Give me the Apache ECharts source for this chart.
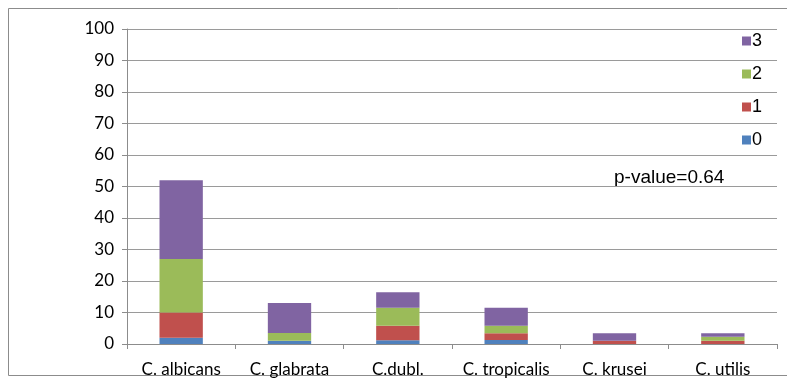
<!DOCTYPE html>
<html>
<head>
<meta charset="utf-8">
<script src="https://cdn.jsdelivr.net/npm/echarts@6/dist/echarts.min.js"></script>
<style>
  html, body { margin: 0; padding: 0; background: #fff; }
  #chart { width: 787px; height: 387px; }
</style>
</head>
<body>
<div id="chart"></div>
<script>
const categories = ['C. albicans', 'C. glabrata', 'C.dubl.', 'C. tropicalis', 'C. krusei', 'C. utilis']
const score0 = [2, 1, 1.2, 1.3, 0, 0]
const score1 = [8, 0, 4.6, 2.1, 1, 1]
const score2 = [17, 2.5, 5.7, 2.4, 0, 1.3]
const score3 = [25, 9.5, 4.9, 5.7, 2.4, 1.1]
const yTicks = [0, 10, 20, 30, 40, 50, 60, 70, 80, 90, 100]
const note = 'p-value=0.64'

const colors = { '0': '#4F81BD', '1': '#C0504D', '2': '#9BBB59', '3': '#8064A2' }
const makeSeries = (name, data) => ({
  name,
  type: 'bar',
  stack: 'total',
  barWidth: '40%',
  data,
  itemStyle: { color: colors[name] }
})

const chart = echarts.init(document.getElementById('chart'))
chart.setOption({
  animation: false,
  grid: { left: 127, right: 10, top: 29, bottom: 43 },
  graphic: [
    {
      type: 'rect',
      shape: { x: 8.5, y: 8.5, width: 900, height: 367 },
      style: { fill: 'none', stroke: '#8c8c8c', lineWidth: 1 },
      z: -1
    },
    {
      type: 'text',
      left: 614,
      top: 168,
      style: { text: note, font: '19px "Liberation Sans", Arial, sans-serif', fill: '#000' }
    }
  ],
  legend: {
    data: ['3', '2', '1', '0'],
    orient: 'vertical',
    left: 737,
    top: 27,
    itemWidth: 9,
    itemHeight: 9,
    itemGap: 15,
    icon: 'rect',
    textStyle: { fontSize: 18, fontFamily: '"Liberation Sans", Arial, sans-serif', color: '#000', padding: [0, 0, 0, -4] }
  },
  xAxis: {
    type: 'category',
    data: categories,
    axisLine: { lineStyle: { color: '#8c8c8c' } },
    axisTick: { show: true, interval: 0, length: 5, lineStyle: { color: '#8c8c8c' } },
    axisLabel: { interval: 0, fontSize: 17, fontFamily: 'Lato, "Open Sans", sans-serif', color: '#000', margin: 17 }
  },
  yAxis: {
    type: 'value',
    min: yTicks[0],
    max: yTicks[yTicks.length - 1],
    interval: 10,
    axisLine: { show: true, lineStyle: { color: '#8c8c8c' } },
    axisTick: { show: true, length: 5, lineStyle: { color: '#8c8c8c' } },
    axisLabel: { fontSize: 17, fontFamily: 'Lato, "Open Sans", sans-serif', color: '#000', margin: 13 },
    splitLine: { lineStyle: { color: '#9a9a9a' } }
  },
  series: [
    makeSeries('0', score0),
    makeSeries('1', score1),
    makeSeries('2', score2),
    makeSeries('3', score3)
  ]
})
</script>
</body>
</html>
